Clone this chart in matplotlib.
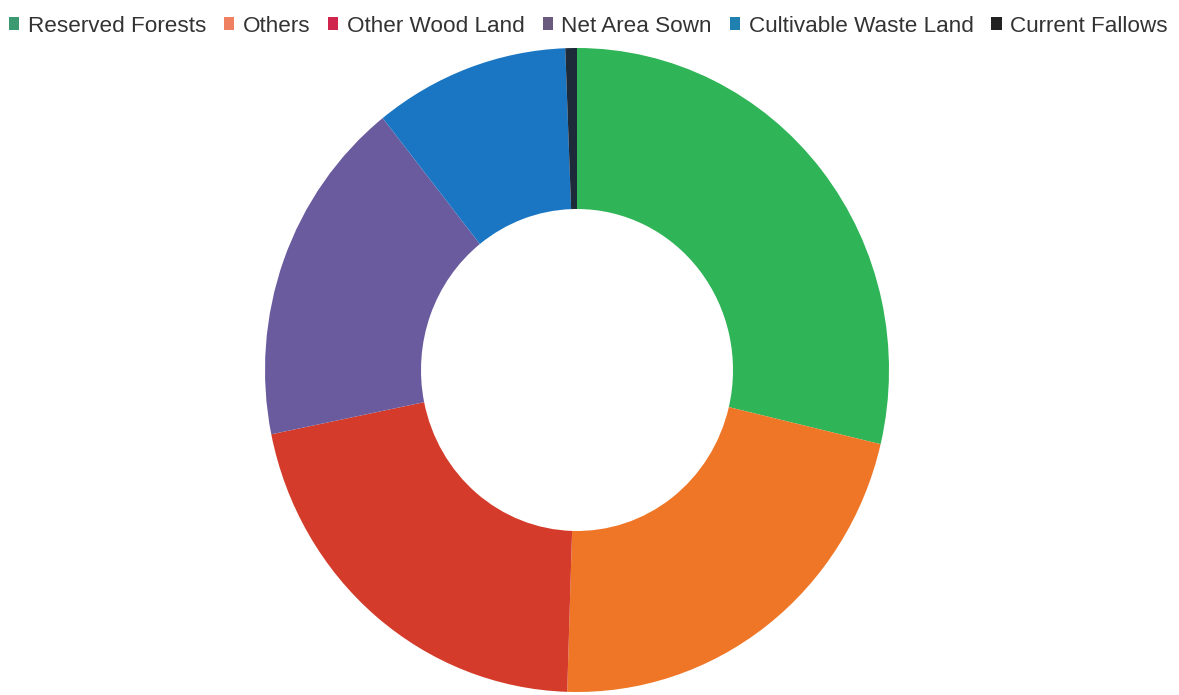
import matplotlib
matplotlib.use("Agg")
import matplotlib.pyplot as plt
from matplotlib.patches import Patch

categories = ["Reserved Forests", "Others", "Other Wood Land", "Net Area Sown",
              "Cultivable Waste Land", "Current Fallows"]
values = [28.7, 21.8, 21.3, 17.5, 10.1, 0.6]
slice_colors = ["#2fb457", "#ee7626", "#d43b2a", "#6a5b9e", "#1a76c2", "#1c2a3a"]
legend_colors = ["#3c9a72", "#f08062", "#d0264e", "#6a5a7e", "#2080b0", "#222222"]

W, H = 1179, 695
fig = plt.figure(figsize=(W / 100, H / 100), dpi=100)

cx, cy, rx, ry = 577, 370, 312, 322
ax = fig.add_axes([(cx - rx) / W, (H - (cy + ry)) / H, 2 * rx / W, 2 * ry / H])
ax.pie(values, colors=slice_colors, startangle=90, counterclock=False,
       radius=1.0, wedgeprops=dict(width=0.5, linewidth=0))
ax.set_aspect("auto")
ax.set_xlim(-1, 1)
ax.set_ylim(-1, 1)
ax.axis("off")

handles = [Patch(facecolor=c, edgecolor="none") for c in legend_colors]
fig.legend(handles, categories, loc="center", bbox_to_anchor=(0.499, 1 - 26 / H),
           ncol=6, frameon=False, handlelength=0.45, handleheight=0.45,
           handletextpad=0.38, columnspacing=0.8,
           prop={"family": "Liberation Sans", "size": 16.2}, labelcolor="#333333")

fig.savefig("out.png", dpi=100)
